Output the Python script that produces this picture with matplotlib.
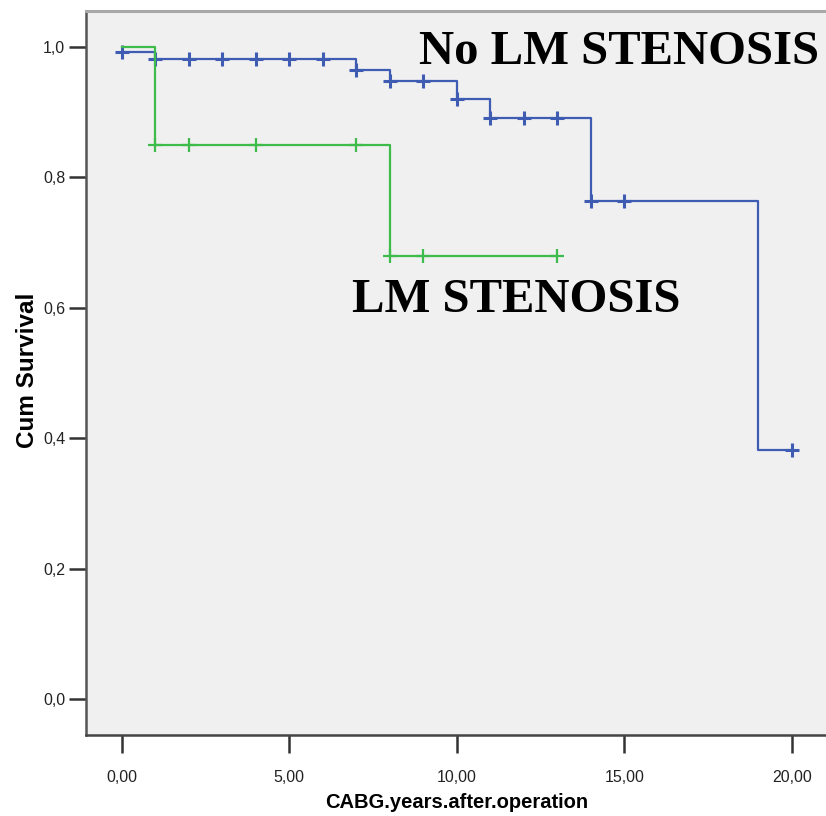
import numpy as np
import matplotlib
matplotlib.use("Agg")
import matplotlib.pyplot as plt
from matplotlib.ticker import FuncFormatter

# Kaplan-Meier steps
no_lm_times = [0, 1, 7, 8, 10, 11, 14, 19, 20]
no_lm_surv = [0.992, 0.981, 0.964, 0.947, 0.920, 0.891, 0.763, 0.382, 0.382]
no_lm_censor = [0, 1, 2, 3, 4, 5, 6, 7, 8, 9, 10, 11, 12, 13, 14, 15, 20]

lm_times = [0, 1, 8, 13]
lm_surv = [1.0, 0.85, 0.68, 0.68]
lm_censor = [1, 2, 4, 7, 8, 9, 13]

x_ticks = [0, 5, 10, 15, 20]
y_ticks = [0.0, 0.2, 0.4, 0.6, 0.8, 1.0]

blue = "#3f5cb3"
green = "#3dbb4b"
sans = ["Liberation Sans", "DejaVu Sans"]


def censor_y(times, surv, cens):
    idx = np.searchsorted(times, cens, side="right") - 1
    return np.array(surv)[idx]


fig = plt.figure(figsize=(8.26, 8.16), dpi=100)
ax = fig.add_axes([86 / 826, 81 / 816, 740 / 826, 724 / 816])
ax.set_facecolor("#f0f0f0")

ax.step(no_lm_times, no_lm_surv, where="post", color=blue, lw=1.6)
ax.plot(no_lm_censor, censor_y(no_lm_times, no_lm_surv, no_lm_censor), "+",
        color=blue, ms=10, mew=2.2)
ax.step(lm_times, lm_surv, where="post", color=green, lw=1.6)
ax.plot(lm_censor, censor_y(lm_times, lm_surv, lm_censor), "+",
        color=green, ms=10, mew=1.6)

ax.set_xlim(-1.07, 21.02)
ax.set_ylim(-0.055, 1.055)
ax.set_xticks(x_ticks)
ax.set_yticks(y_ticks)
ax.xaxis.set_major_formatter(FuncFormatter(lambda v, p: f"{v:.2f}".replace(".", ",")))
ax.yaxis.set_major_formatter(FuncFormatter(lambda v, p: f"{v:.1f}".replace(".", ",")))
ax.tick_params(axis="x", length=13, width=1.8, color="#333333", pad=12)
ax.tick_params(axis="y", length=12, width=1.8, color="#333333", pad=3)
for lab in ax.get_xticklabels() + ax.get_yticklabels():
    lab.set_family(sans)
    lab.set_fontsize(11.5)
    lab.set_color("#222222")

ax.spines["right"].set_visible(False)
ax.spines["top"].set_color("#a8a8a8")
ax.spines["top"].set_linewidth(2.2)
ax.spines["left"].set_color("#555555")
ax.spines["left"].set_linewidth(1.8)
ax.spines["bottom"].set_color("#444444")
ax.spines["bottom"].set_linewidth(1.8)

fig.text(457 / 826, 1 - 802 / 816, "CABG.years.after.operation", ha="center",
         va="center", family=sans, fontsize=14.5, fontweight="bold")
fig.text(28 / 826, 1 - 370 / 816, "Cum Survival", rotation=90, ha="center",
         va="center", family=sans, fontsize=17.5, fontweight="bold")

serif = ["Liberation Serif", "DejaVu Serif"]
ax.text(14.84, 0.974, "No LM STENOSIS", ha="center", va="baseline", family=serif,
        fontsize=35, fontweight="bold")
ax.text(11.76, 0.593, "LM STENOSIS", ha="center", va="baseline", family=serif,
        fontsize=35, fontweight="bold")

fig.savefig("out.png", dpi=100)
